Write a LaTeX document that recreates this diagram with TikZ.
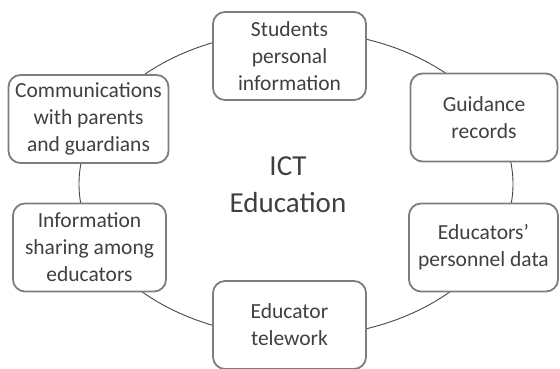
\documentclass[tikz,border=0pt]{standalone}
\usepackage{fontspec}
\setmainfont{Carlito}
\usetikzlibrary{positioning, shapes.geometric}
\definecolor{boxline}{RGB}{125,125,125}
\definecolor{ringline}{RGB}{70,70,70}
\definecolor{txt}{RGB}{64,64,64}

\begin{document}
\begin{tikzpicture}[x=1pt, y=1pt,
        topic/.style={rectangle, rounded corners=12pt, fill=white, draw=boxline, line width=1.8pt, minimum width=153pt, minimum height=88pt, align=center, text=txt, inner sep=2pt, font=\fontsize{21.5}{27}\selectfont},
        ring/.style={ellipse, draw=ringline, line width=0.9pt, minimum width=434pt, minimum height=306pt, inner sep=0pt}]
            \useasboundingbox (0,0) rectangle (560,369);
            \node[ring] (cycle) at (296,185) {};
            \node[text=txt, align=center, font=\fontsize{29}{37}\selectfont] (ict) at (288,184) {ICT\\Education};
            \node[topic] (stud) at (289.5,313) {Students\\personal\\information};
            \node[topic, minimum width=147pt] (guid) at (484,251.5) {Guidance\\records};
            \node[topic, minimum width=149pt] (pers) at (483.5,121.5) {Educators'\\personnel data};
            \node[topic] (tele) at (289.5,44) {Educator\\telework};
            \node[topic] (share) at (89.5,121.5) {Information\\sharing among\\educators};
            \node[topic, minimum width=160pt] (comm) at (88.5,250) {Communications\\with parents\\and guardians};
        \end{tikzpicture}
\end{document}
